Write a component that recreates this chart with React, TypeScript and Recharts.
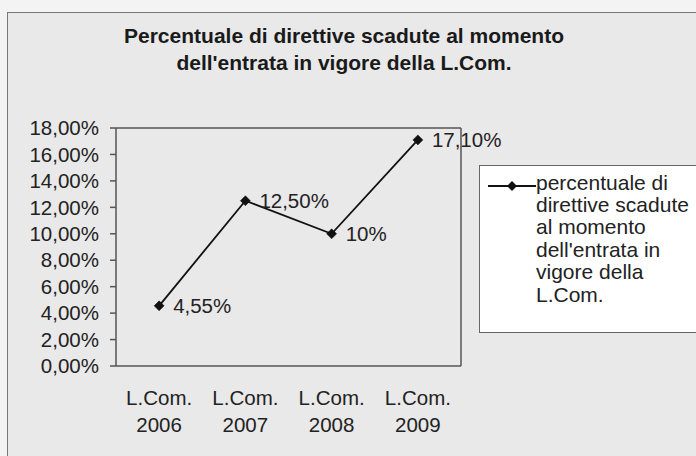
import React from "react";
import {
  LineChart,
  Line,
  XAxis,
  YAxis,
  Legend,
  LabelList,
} from "recharts";

const categories = ["L.Com. 2006", "L.Com. 2007", "L.Com. 2008", "L.Com. 2009"];
const values = [4.55, 12.5, 10, 17.1];
const valueLabels = ["4,55%", "12,50%", "10%", "17,10%"];
const yTicks = [0, 2, 4, 6, 8, 10, 12, 14, 16, 18];
const boundaryTicks = [0, 1, 2, 3, 4];
const seriesName =
  "percentuale di direttive scadute al momento dell'entrata in vigore della L.Com.";
const legendLines = [
  "percentuale di",
  "direttive scadute",
  "al momento",
  "dell'entrata in",
  "vigore della",
  "L.Com.",
];
const titleLines = [
  "Percentuale di direttive scadute al momento",
  "dell'entrata in vigore della L.Com.",
];

const data = categories.map((c, i) => ({ name: c, value: values[i], label: valueLabels[i] }));

const FONT = "'Liberation Sans', Arial, sans-serif";
const W = 696;
const H = 456;
const TICK_FS = 20.5;

const Diamond = (props: any) => {
  const { cx, cy } = props;
  if (cx == null || cy == null) return null;
  const r = 5;
  return (
    <polygon
      points={`${cx},${cy - r} ${cx + r},${cy} ${cx},${cy + r} ${cx - r},${cy}`}
      fill="#111"
      stroke="#111"
      strokeWidth={0.5}
    />
  );
};

const CatTick = (props: any) => {
  const { x, y, payload } = props;
  const parts = String(payload.value).split(" ");
  return (
    <text x={x} y={y} textAnchor="middle" fontFamily={FONT} fontSize={TICK_FS} fill="#222">
      <tspan x={x} dy={33}>{parts[0]}</tspan>
      <tspan x={x} dy={27}>{parts[1]}</tspan>
    </text>
  );
};

const renderLegend = () => (
  <div
    style={{
      boxSizing: "border-box",
      width: 240,
      height: 168,
      background: "#ffffff",
      border: "1px solid #666",
      position: "relative",
      fontFamily: FONT,
      fontSize: 21,
      color: "#222",
    }}
    title={seriesName}
  >
    <svg
      width={48}
      height={12}
      style={{ position: "absolute", left: 8, top: 14 }}
    >
      <line x1={0} y1={6} x2={48} y2={6} stroke="#111" strokeWidth={2} />
      <polygon points="24,1 29,6 24,11 19,6" fill="#111" />
    </svg>
    <div
      style={{
        position: "absolute",
        left: 56,
        top: 5.5,
        lineHeight: "22.4px",
        whiteSpace: "nowrap",
      }}
    >
      {legendLines.map((l, i) => (
        <div key={i}>{l}</div>
      ))}
    </div>
  </div>
);

export default function App() {
  return (
    <div
      style={{
        position: "absolute",
        left: 0,
        top: 0,
        width: W,
        height: H,
        overflow: "hidden",
        background: "#f3f3f3",
      }}
    >
      <div
        style={{
          position: "absolute",
          left: 7,
          top: 12,
          width: 720,
          height: 480,
          background: "#e9e9e9",
          border: "1px solid #777",
        }}
      />
      <div
        style={{
          position: "absolute",
          left: 344 - 320,
          width: 640,
          top: 22,
          lineHeight: "27px",
          textAlign: "center",
          fontFamily: FONT,
          fontWeight: "bold",
          fontSize: 21,
          color: "#1a1a1a",
        }}
      >
        {titleLines.map((t, i) => (
          <div key={i}>{t}</div>
        ))}
      </div>
      <div style={{ position: "absolute", left: 0, top: 0 }}>
        <LineChart
          width={W}
          height={H}
          data={data}
          margin={{ top: 127, right: 234, bottom: 0, left: 0 }}
        >
          <XAxis
            xAxisId="a_num"
            type="number"
            domain={[0, 4]}
            ticks={boundaryTicks}
            tick={false}
            tickSize={6}
            height={6}
            axisLine={{ stroke: "#555", strokeWidth: 1.5 }}
            tickLine={{ stroke: "#555", strokeWidth: 1.5 }}
            allowDataOverflow
          />
          <XAxis
            xAxisId="b_cat"
            dataKey="name"
            scale="band"
            height={84}
            axisLine={false}
            tickLine={false}
            tickSize={0}
            tickMargin={0}
            interval={0}
            tick={<CatTick />}
          />
          <XAxis
            xAxisId="c_top"
            orientation="top"
            type="number"
            domain={[0, 4]}
            height={1}
            tick={false}
            tickLine={false}
            axisLine={{ stroke: "#555", strokeWidth: 1.5 }}
            allowDataOverflow
          />
          <YAxis
            yAxisId="left"
            domain={[0, 18]}
            ticks={yTicks}
            width={116}
            tickSize={6}
            tickMargin={11}
            interval={0}
            tickFormatter={(v: number) => v.toFixed(2).replace(".", ",") + "%"}
            tick={{ fontFamily: FONT, fontSize: TICK_FS, fill: "#222" }}
            axisLine={{ stroke: "#555", strokeWidth: 1.5 }}
            tickLine={{ stroke: "#555", strokeWidth: 1.5 }}
          />
          <YAxis
            yAxisId="right"
            orientation="right"
            domain={[0, 18]}
            width={1}
            tick={false}
            tickLine={false}
            axisLine={{ stroke: "#555", strokeWidth: 1.5 }}
          />
          <Legend
            layout="vertical"
            align="center"
            verticalAlign="middle"
            wrapperStyle={{ left: 479, top: 165, width: 240, height: 168 }}
            content={renderLegend}
          />
          <Line
            xAxisId="b_cat"
            yAxisId="left"
            type="linear"
            dataKey="value"
            name={seriesName}
            stroke="#111"
            strokeWidth={1.8}
            dot={<Diamond />}
            activeDot={false}
            isAnimationActive={false}
          >
            <LabelList
              dataKey="label"
              position="right"
              offset={14}
              style={{ fontFamily: FONT, fontSize: TICK_FS, fill: "#222" }}
            />
          </Line>
        </LineChart>
      </div>
    </div>
  );
}
